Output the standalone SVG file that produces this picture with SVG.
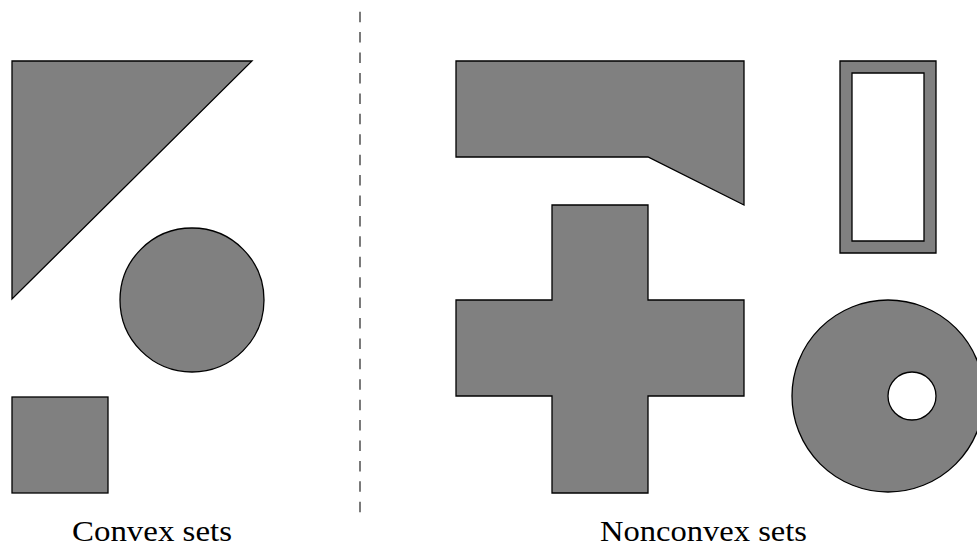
<svg xmlns="http://www.w3.org/2000/svg" width="977" height="546" viewBox="0 0 977 546">
<style>
.s{fill:#808080;stroke:#000;stroke-width:1.3;stroke-linejoin:miter;fill-rule:evenodd}
.lbl{font-family:"Liberation Serif","DejaVu Serif",serif;font-size:29px;fill:#000}
.div{stroke:#333;stroke-width:1.3;stroke-dasharray:10.5 9.92;fill:none}
</style>
<rect width="977" height="546" fill="#fff"/>
<g id="divider"><line class="div" x1="360" y1="11.7" x2="360" y2="513"/></g>
<g id="triangle"><polygon class="s" points="12,61 252,61 12,299"/></g>
<g id="disk"><circle class="s" cx="192" cy="300" r="72"/></g>
<g id="square"><rect class="s" x="12" y="397" width="96" height="96"/></g>
<g id="notched"><polygon class="s" points="456,61 744,61 744,205 648,157 456,157"/></g>
<g id="cross"><polygon class="s" points="552,205 648,205 648,300 744,300 744,396 648,396 648,493 552,493 552,396 456,396 456,300 552,300"/></g>
<g id="frame"><path class="s" d="M840,61H936V253H840Z M852,73V241H924V73Z"/></g>
<g id="annulus"><path class="s" d="M792,396a96,96 0 1,0 192,0a96,96 0 1,0 -192,0Z M888,396a24,24 0 1,0 48,0a24,24 0 1,0 -48,0Z"/></g>
<g id="labels">
<text class="lbl" x="72" y="541" textLength="160" lengthAdjust="spacingAndGlyphs">Convex sets</text>
<text class="lbl" x="600" y="541" textLength="207" lengthAdjust="spacingAndGlyphs">Nonconvex sets</text>
</g>
</svg>
